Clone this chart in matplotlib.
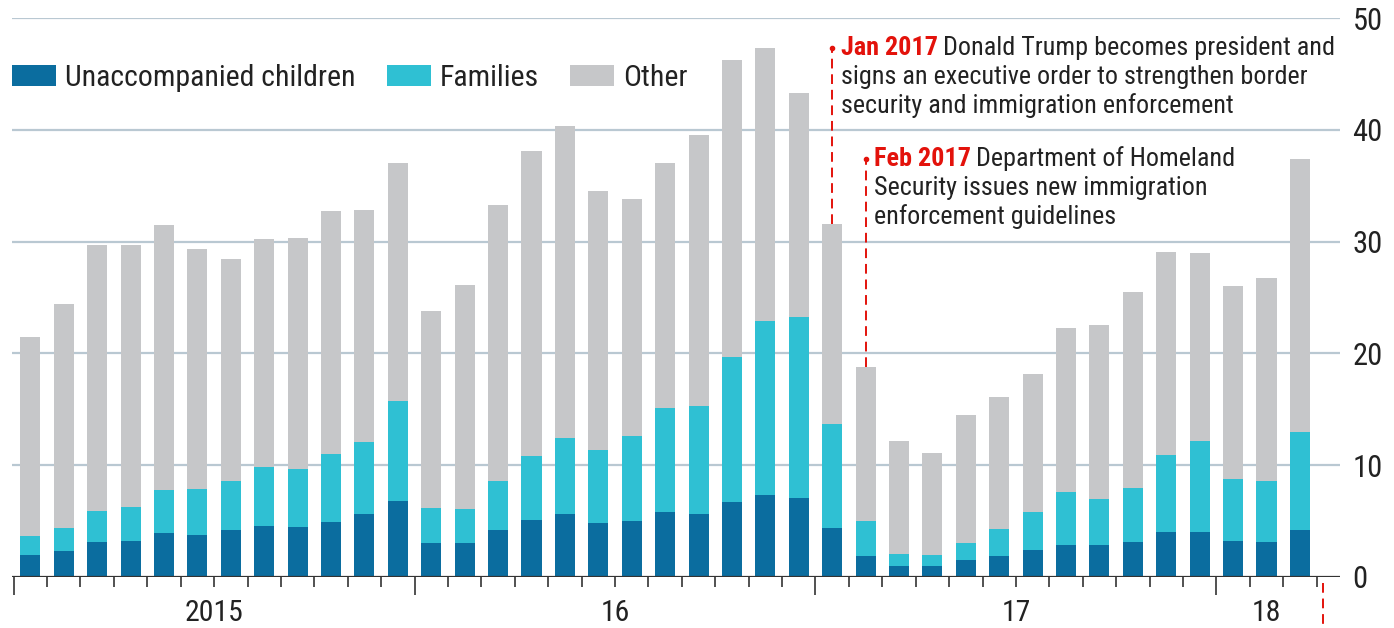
import matplotlib.pyplot as plt
from matplotlib import font_manager
import numpy as np

# Monthly apprehensions at the south-west border, '000, Jan 2015 - Mar 2018
months = [f"{y}-{m:02d}" for y in (2015, 2016, 2017) for m in range(1, 13)] + ["2018-01", "2018-02", "2018-03"]

totals = [21.5, 24.4, 29.7, 29.7, 31.5, 29.3, 28.4, 30.2, 30.3, 32.7, 32.8, 37.0,
          23.8, 26.1, 33.3, 38.1, 40.3, 34.5, 33.8, 37.0, 39.5, 46.2, 47.3, 43.3,
          31.6, 18.8, 12.2, 11.1, 14.5, 16.1, 18.2, 22.3, 22.5, 25.5, 29.1, 29.0,
          26.0, 26.7, 37.4]
children = [2.0, 2.3, 3.1, 3.2, 3.9, 3.8, 4.2, 4.6, 4.5, 4.9, 5.6, 6.8,
            3.0, 3.0, 4.2, 5.1, 5.6, 4.8, 5.0, 5.8, 5.6, 6.7, 7.3, 7.1,
            4.4, 1.9, 1.0, 1.0, 1.5, 1.9, 2.4, 2.9, 2.9, 3.1, 4.0, 4.0,
            3.2, 3.1, 4.2]
families_top = [3.7, 4.4, 5.9, 6.3, 7.8, 7.9, 8.6, 9.8, 9.7, 11.0, 12.1, 15.7,
                6.2, 6.1, 8.6, 10.8, 12.4, 11.4, 12.6, 15.1, 15.3, 19.7, 22.9, 23.3,
                13.7, 5.0, 2.1, 2.0, 3.0, 4.3, 5.8, 7.6, 7.0, 8.0, 10.9, 12.2,
                8.8, 8.6, 13.0]

year_labels = ["2015", "16", "17", "18"]
year_label_pos = [5.5, 17.5, 29.5, 37.0]
year_starts = [-0.5, 11.5, 23.5, 35.5]

events = [
    (24, 31.6, 47.35, "Jan 2017", ["Donald Trump becomes president and",
                                   "signs an executive order to strengthen border",
                                   "security and immigration enforcement"]),
    (25, 18.8, 37.4, "Feb 2017", ["Department of Homeland",
                                  "Security issues new immigration",
                                  "enforcement guidelines"]),
]

DARK = "#0b6d9f"
CYAN = "#2fc0d3"
GREY = "#c6c7c9"
RED = "#e3120b"
GRID = "#b9c8d2"
INK = "#222222"

installed = {f.name for f in font_manager.fontManager.ttflist}
narrow = [f for f in ("Roboto Condensed", "DejaVu Sans Condensed", "Liberation Sans Narrow")
          if f in installed]
plt.rcParams["font.family"] = narrow + ["DejaVu Sans"]
plt.rcParams["font.stretch"] = "condensed"

children = np.array(children)
families = np.array(families_top) - children
other = np.array(totals) - np.array(families_top)
x = np.arange(len(months))

fig = plt.figure(figsize=(13.94, 6.28), dpi=100)
ax = fig.add_axes([12 / 1394, 51 / 628, 1328 / 1394, 559 / 628])

w = 0.6
ax.bar(x, children, w, color=DARK, label="Unaccompanied children", zorder=3)
ax.bar(x, families, w, bottom=children, color=CYAN, label="Families", zorder=3)
ax.bar(x, other, w, bottom=children + families, color=GREY, label="Other", zorder=3)

ax.set_xlim(-0.55, 39.2)
ax.set_ylim(0, 50)

for v in range(10, 51, 10):
    ax.axhline(v, color=GRID, lw=1.6, zorder=1)
ax.axhline(0, color="#333333", lw=1.6, zorder=4)

for s in ax.spines.values():
    s.set_visible(False)

ax.yaxis.tick_right()
ax.set_yticks(range(0, 51, 10))
ax.tick_params(axis="y", length=0, pad=9, labelsize=22, colors=INK)

# month ticks short, year ticks long
ax.set_xticks(np.arange(-0.5, 39, 1.0), minor=True)
ax.set_xticks(year_starts)
ax.set_xticklabels([])
ax.tick_params(axis="x", which="minor", length=7, width=1.2, color="#333333")
ax.tick_params(axis="x", which="major", length=13, width=1.2, color="#333333")
for lbl, pos in zip(year_labels, year_label_pos):
    ax.text(pos, -3.25, lbl, ha="center", va="center", fontsize=21.5, color=INK)

# event markers
fig.canvas.draw()
renderer = fig.canvas.get_renderer()
for xi, top, ytext, tag, lines in events:
    ax.plot([xi, xi], [top, ytext], color=RED, lw=1.4, ls=(0, (5, 3)), zorder=5)
    ax.plot(xi, ytext, "o", color=RED, ms=3, zorder=5)
    t = ax.text(xi + 0.25, ytext, tag, ha="left", va="center", fontsize=18.8,
                color=RED, fontweight="semibold")
    bb = t.get_window_extent(renderer).transformed(ax.transData.inverted())
    ax.text(bb.x1 + 0.15, ytext, lines[0], ha="left", va="center", fontsize=18.8, color=INK)
    for i, line in enumerate(lines[1:], start=1):
        ax.text(xi + 0.25, ytext - i * 2.6, line, ha="left", va="center",
                fontsize=18.8, color=INK)

# dashed marker continuing below the axis at the end of the series
ax.plot([38.7, 38.7], [-0.5, -4.6], color=RED, lw=1.4, ls=(0, (5, 3)), clip_on=False)

leg = ax.legend(loc="center left", bbox_to_anchor=(0.0, 0.893), ncol=3, frameon=False,
                fontsize=21.5, handlelength=1.47, handleheight=0.7, handletextpad=0.3,
                columnspacing=1.05, borderaxespad=0, borderpad=0)
for txt in leg.get_texts():
    txt.set_color(INK)

fig.savefig("out.png", dpi=100)
